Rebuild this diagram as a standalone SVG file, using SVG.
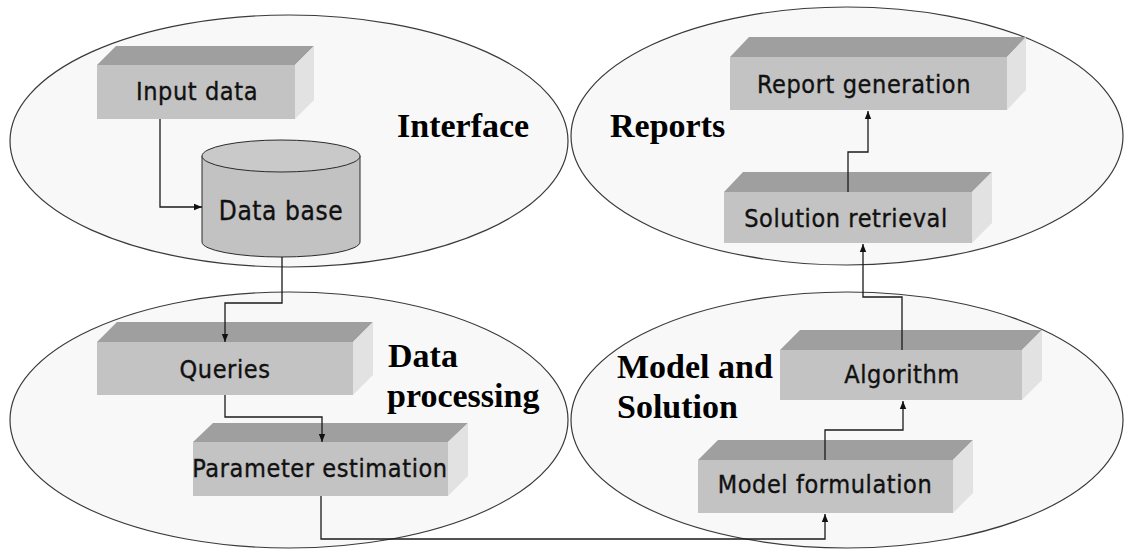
<svg xmlns="http://www.w3.org/2000/svg" width="1124" height="550" viewBox="0 0 1124 550">
  <defs>
    <style>
      .zone { fill: #f8f8f8; stroke: #3a3a3a; stroke-width: 1.2; }
      .front { fill: #c3c3c3; }
      .top { fill: #9f9f9f; }
      .side { fill: #e2e2e2; }
      .lbl { font-family: "DejaVu Sans Condensed", "DejaVu Sans", sans-serif; font-size: 25px; letter-spacing: 0.6px; fill: #111; stroke: #111; stroke-width: 0.35; text-anchor: middle; }
      .title { font-family: "Liberation Serif", "Times New Roman", serif; font-weight: bold; font-size: 34px; fill: #000; }
      .link { fill: none; stroke: #1a1a1a; stroke-width: 1.3; marker-end: url(#arrow); }
      .cyl { fill: #c2c2c2; stroke: #2a2a2a; stroke-width: 1; }
    </style>
    <marker id="arrow" viewBox="0 0 10 10" refX="10" refY="5" markerWidth="8" markerHeight="8" markerUnits="userSpaceOnUse" orient="auto">
      <path d="M0,1 L10,5 L0,9 Z" fill="#111"/>
    </marker>
  </defs>

  <rect width="1124" height="550" fill="#ffffff"/>

  <!-- Four functional zones -->
  <g id="zone-interface">
    <ellipse class="zone" cx="289" cy="141" rx="279" ry="126"/>
    <text class="title" x="397" y="137">Interface</text>
  </g>
  <g id="zone-reports">
    <ellipse class="zone" cx="847" cy="136" rx="276" ry="129"/>
    <text class="title" x="610" y="137">Reports</text>
  </g>
  <g id="zone-data-processing">
    <ellipse class="zone" cx="289" cy="420" rx="279" ry="128"/>
    <text class="title" x="388" y="367">Data</text>
    <text class="title" x="387" y="407">processing</text>
  </g>
  <g id="zone-model-solution">
    <ellipse class="zone" cx="847" cy="420" rx="276" ry="128"/>
    <text class="title" x="617" y="378">Model and</text>
    <text class="title" x="617" y="418">Solution</text>
  </g>

  <!-- Process blocks (front face, top face, side face) -->
  <g id="input-data">
    <polygon class="top" points="97,65 116,46 314,46 295,65"/>
    <polygon class="side" points="295,65 314,46 314,100 295,119"/>
    <rect class="front" x="97" y="65" width="198" height="54"/>
    <text class="lbl" x="197" y="100">Input data</text>
  </g>

  <g id="data-base">
    <path class="cyl" d="M202,156 L202,242 A79,15 0 0 0 360,242 L360,156"/>
    <ellipse class="cyl" cx="281" cy="156" rx="79" ry="16" style="fill:#c9c9c9"/>
    <text class="lbl" x="281" y="220" style="font-size:26px">Data base</text>
  </g>

  <g id="queries">
    <polygon class="top" points="97,342 117,322 373,322 353,342"/>
    <polygon class="side" points="353,342 373,322 373,375 353,395"/>
    <rect class="front" x="97" y="342" width="256" height="53"/>
    <text class="lbl" x="225" y="378">Queries</text>
  </g>

  <g id="parameter-estimation">
    <polygon class="top" points="193,442 213,423 468,423 448,442"/>
    <polygon class="side" points="448,442 468,423 468,476 448,496"/>
    <rect class="front" x="193" y="442" width="255" height="54"/>
    <text class="lbl" x="320" y="477">Parameter estimation</text>
  </g>

  <g id="model-formulation">
    <polygon class="top" points="698,460 718,440 973,440 953,460"/>
    <polygon class="side" points="953,460 973,440 973,493 953,513"/>
    <rect class="front" x="698" y="460" width="255" height="53"/>
    <text class="lbl" x="825" y="493">Model formulation</text>
  </g>

  <g id="algorithm">
    <polygon class="top" points="780,350 800,330 1042,330 1022,350"/>
    <polygon class="side" points="1022,350 1042,330 1042,380 1022,400"/>
    <rect class="front" x="780" y="350" width="242" height="50"/>
    <text class="lbl" x="902" y="383">Algorithm</text>
  </g>

  <g id="solution-retrieval">
    <polygon class="top" points="724,192 743,172 992,172 972,192"/>
    <polygon class="side" points="972,192 992,172 992,223 972,243"/>
    <rect class="front" x="724" y="192" width="248" height="51"/>
    <text class="lbl" x="846" y="227">Solution retrieval</text>
  </g>

  <g id="report-generation">
    <polygon class="top" points="730,57 749,37 1026,37 1007,57"/>
    <polygon class="side" points="1007,57 1026,37 1026,90 1007,110"/>
    <rect class="front" x="730" y="57" width="277" height="53"/>
    <text class="lbl" x="864" y="93">Report generation</text>
  </g>

  <!-- Connectors -->
  <g id="connectors">
    <polyline class="link" points="160,119 160,207 202,207"/>
    <polyline class="link" points="282,257 282,303 225,303 225,342"/>
    <polyline class="link" points="225,395 225,417 322,417 322,442"/>
    <polyline class="link" points="321,496 321,539 825,539 825,514"/>
    <polyline class="link" points="825,460 825,430 903,430 903,401"/>
    <polyline class="link" points="902,350 902,297 863,297 863,244"/>
    <polyline class="link" points="848,192 848,152 868,152 868,111"/>
  </g>
</svg>
